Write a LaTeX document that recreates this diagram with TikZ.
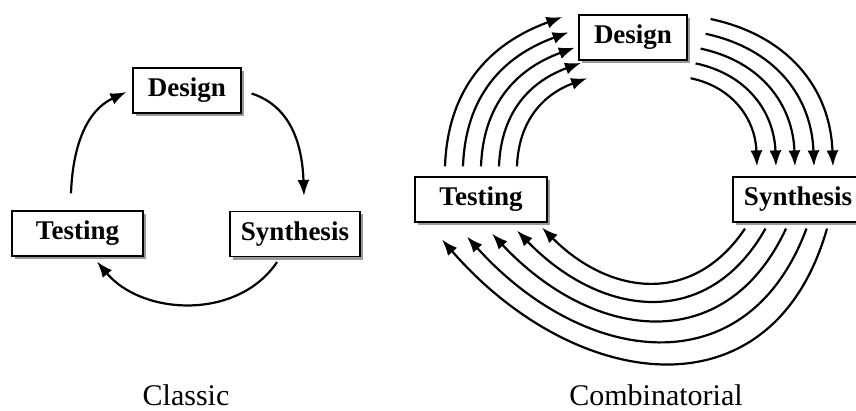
\documentclass[tikz,border=0pt]{standalone}
\usepackage{fontspec}
\setmainfont{Liberation Serif}
\usetikzlibrary{arrows.meta,shadows}

\begin{document}
\begin{tikzpicture}[x=1pt,y=1pt,
  stage/.style={draw,line width=1.2pt,fill=white,minimum height=45pt,inner sep=0pt,
    font=\fontsize{27}{30}\selectfont\bfseries,
    drop shadow={shadow xshift=3pt,shadow yshift=-3pt,fill=black!40,opacity=1}},
  flow/.style={line width=2.2pt,-{Latex[length=16pt,width=12pt]}},
  caption/.style={anchor=base,font=\fontsize{30}{34}\selectfont}]

\useasboundingbox (0,0) rectangle (856,410);

% classic cycle
\begin{scope}

\node[stage,minimum width=108pt] (design) at (187,319.5) {Design};
\node[stage,minimum width=130pt] (synth) at (295,176) {Synthesis};
\node[stage,minimum width=131pt] (test) at (77.5,176.5) {Testing};

\draw[flow] ([shift={(10,-3)}]design.east) to[out=-18,in=92] ([shift={(9,15)}]synth.north);
\draw[flow] ([shift={(-18,-5)}]synth.south) to[out=-124,in=-50] ([shift={(19.5,-5)}]test.south);
\draw[flow] ([shift={(-6.5,17)}]test.north) to[out=88,in=-155] ([shift={(-6,-1.5)}]design.west);

\node[caption] (classic) at (186,5) {Classic};

\end{scope}

% combinatorial cycle, five loops per step
\begin{scope}

\node[stage,minimum width=108pt] (cdesign) at (633,372.5) {Design};
\node[stage,minimum width=132pt] (ctest) at (481,210.5) {Testing};
\node[stage,minimum width=130pt] (csynth) at (798,210.5) {Synthesis};

\foreach \i in {0,...,4} {
  \pgfmathsetmacro\bout{-106-4.5*\i}
  \pgfmathsetmacro\bin{-49+\i}
  \pgfmathsetmacro\bloose{1.33-0.035*\i}
  \draw[flow] ([shift={(-36+18*\i,10)}]ctest.north) to[out=88,in=-160,looseness=1.05] ([shift={(-16+6.2*\i,20.5-15.3*\i)}]cdesign.west);
  \draw[flow] ([shift={(23-5*\i,18.5-14.8*\i)}]cdesign.east) to[out=-12,in=92,looseness=1.05] ([shift={(35-19*\i,10)}]csynth.north);
  \draw[flow] ([shift={(29-20.5*\i,-6)}]csynth.south) to[out=\bout,in=\bin,looseness=\bloose] ([shift={(-39+25*\i,-17+3*\i)}]ctest.south);
}

\node[caption] (comb) at (656,5) {Combinatorial};

\end{scope}

\end{tikzpicture}
\end{document}
